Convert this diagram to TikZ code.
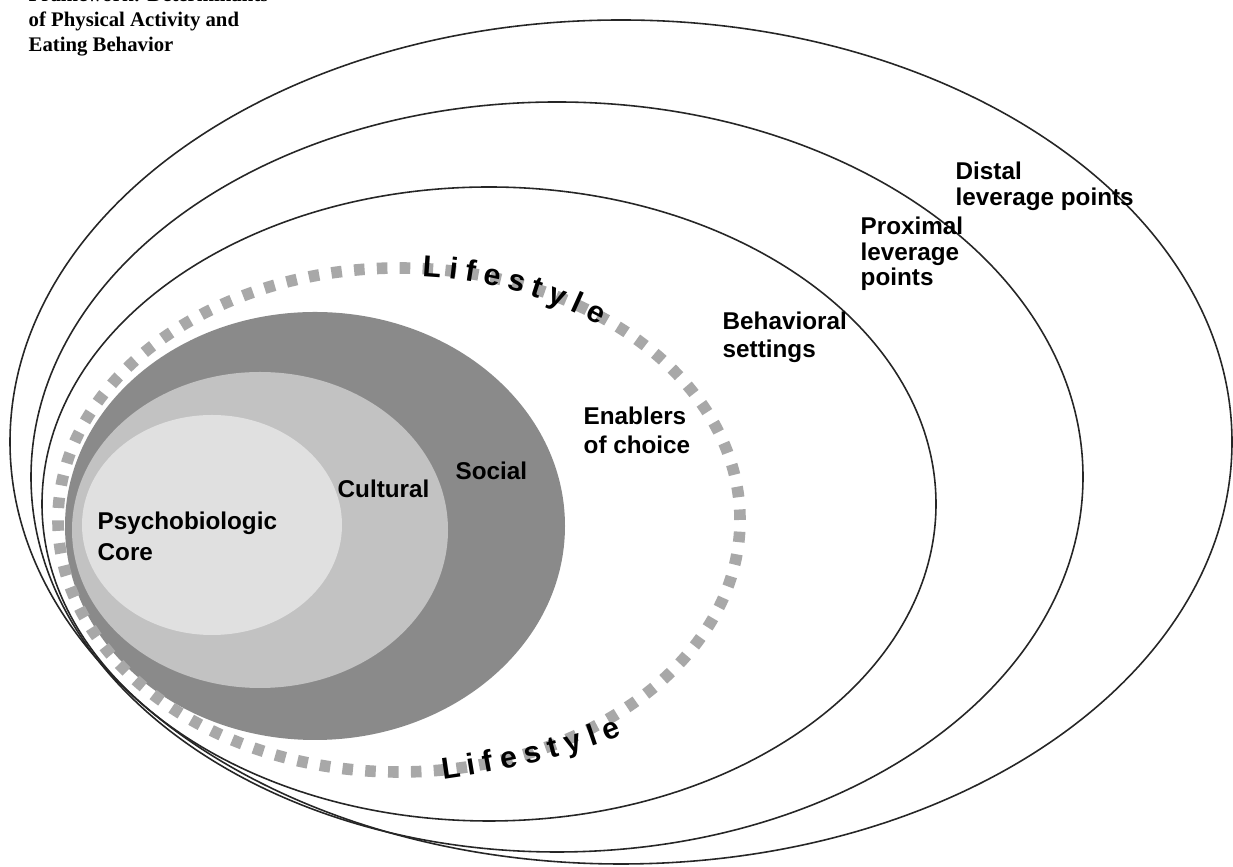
\documentclass[tikz,border=0pt]{standalone}
\usepackage{fontspec}
\setmainfont{Liberation Serif}
\newfontfamily\arialfont{Liberation Sans}
\usetikzlibrary{decorations.text}
\newcommand\lifefont{\arialfont\bfseries\fontsize{8.6}{9}\selectfont}
\definecolor{socialgray}{gray}{0.54}
\definecolor{culturalgray}{gray}{0.76}
\definecolor{coregray}{gray}{0.88}
\definecolor{dashgray}{gray}{0.66}
\begin{document}
\begin{tikzpicture}[x=0.01cm,y=0.01cm,
  ring/.style={draw=black!85, line width=0.45pt},
  lbl/.style={inner sep=0pt, anchor=base west,
    font=\arialfont\bfseries\fontsize{6.9}{#1}\selectfont},
  lbl/.default=8,
  lifestylering/.style={draw=dashgray, line width=3.3pt,
    dash pattern=on 3.0pt off 3.5pt},
  lifeword/.style={decorate, decoration={text along path,
    text={|\lifefont|Lifestyle}, text align={fit to path}}},
]
\useasboundingbox (0,0) rectangle (1233,867);
\fill[white] (0,0) rectangle (1233,867);

% leverage rings
\draw[ring] (621,425) ellipse [x radius=611, y radius=422];
\draw[ring] (557,390) ellipse [x radius=526, y radius=375];
\draw[ring] (489,363) ellipse [x radius=447, y radius=317];

% nested influences
\fill[socialgray]   (315,341) ellipse [x radius=250, y radius=214];
\fill[culturalgray] (260,337) ellipse [x radius=188, y radius=158];
\fill[coregray]     (212,342) ellipse [x radius=130, y radius=110];

% lifestyle boundary
\draw[lifestylering] (399,347) ellipse [x radius=341, y radius=252];
\path[lifeword] (422.2,590.4) arc [start angle=86, end angle=53, x radius=333, y radius=244];
\path[lifeword] (443,88) .. controls (500,96) and (570,110) .. (622,132);

% labels
\node[lbl=8.8] (core) at (97,337) {\begin{tabular}[t]{@{}l@{}}Psychobiologic\\Core\end{tabular}};
\node[lbl] (cultural) at (337,369) {Cultural};
\node[lbl] (social) at (455,387) {Social};
\node[lbl=8.0] (enablers) at (583,442) {\begin{tabular}[t]{@{}l@{}}Enablers\\of choice\end{tabular}};
\node[lbl=7.7] (settings) at (722,537) {\begin{tabular}[t]{@{}l@{}}Behavioral\\settings\end{tabular}};
\node[lbl=7.1] (proximal) at (860,632) {\begin{tabular}[t]{@{}l@{}}Proximal\\leverage\\points\end{tabular}};
\node[lbl=7.1] (distal) at (955,687) {\begin{tabular}[t]{@{}l@{}}Distal\\leverage points\end{tabular}};

% caption
\node[inner sep=0pt, anchor=base west, font=\bfseries\fontsize{5.9}{7.1}\selectfont] (caption) at (28,865)
  {\begin{tabular}[t]{@{}l@{}}Framework: Determinants\\of Physical Activity and\\Eating Behavior\end{tabular}};
\end{tikzpicture}
\end{document}
